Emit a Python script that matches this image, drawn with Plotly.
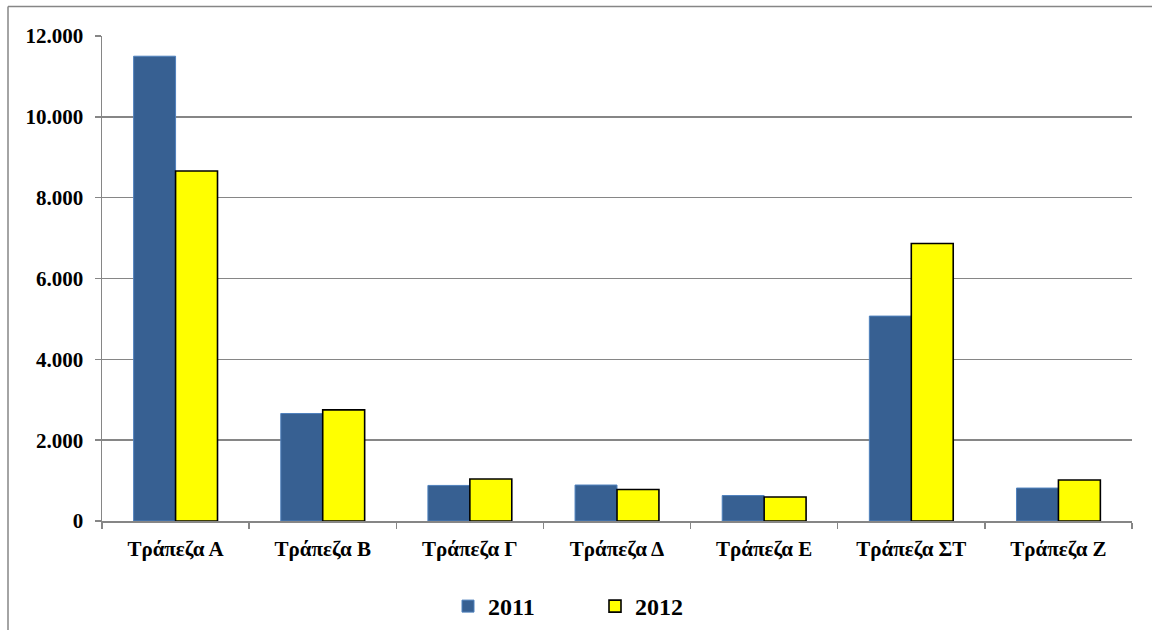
import plotly.graph_objects as go

categories = ["Τράπεζα Α", "Τράπεζα Β", "Τράπεζα Γ", "Τράπεζα Δ", "Τράπεζα Ε", "Τράπεζα ΣΤ", "Τράπεζα Ζ"]
values_2011 = [11500, 2660, 880, 890, 630, 5070, 815]
values_2012 = [8660, 2750, 1040, 780, 595, 6865, 1015]
series_names = ["2011", "2012"]

W, H = 1152, 630
L, R, T, B = 102, 1132, 36, 521  # plot area in pixels

FONT = "Liberation Serif"
GRID = "#868686"

fig = go.Figure()
fig.add_trace(go.Bar(
    x=categories, y=values_2011, name=series_names[0],
    marker=dict(color="#376092", line=dict(color="#4F81BD", width=1)),
))
fig.add_trace(go.Bar(
    x=categories, y=values_2012, name=series_names[1],
    marker=dict(color="#FFFF00", line=dict(color="#000000", width=1.6)),
))

pw = R - L
ph = B - T
def px2paper_x(x):
    return (x - L) / pw
def px2paper_y(y):
    return (B - y) / ph

fig.update_layout(
    width=W, height=H,
    margin=dict(l=L, r=W - R, t=T, b=H - B, autoexpand=False),
    paper_bgcolor="white", plot_bgcolor="white",
    barmode="group", bargap=0.43, bargroupgap=0,
    separators=",.",
    showlegend=True,
    legend=dict(
        orientation="h", x=px2paper_x(448), xanchor="left",
        y=px2paper_y(584), yanchor="top",
        font=dict(family=FONT, size=24, color="black", weight="bold"),
        entrywidth=102, entrywidthmode="pixels",
        bgcolor="rgba(0,0,0,0)", itemclick=False,
    ),
    xaxis=dict(
        type="category", showgrid=False, showline=True, linecolor=GRID, linewidth=1.5,
        ticks="outside", tickson="boundaries", ticklen=6, tickcolor=GRID, tickwidth=1.5,
        ticklabelstandoff=8,
        tickfont=dict(family=FONT, size=21, color="black", weight="bold"),
        fixedrange=True,
    ),
    yaxis=dict(
        range=[0, 12000], dtick=2000, tickformat=",d",
        showgrid=True, gridcolor=GRID, gridwidth=1.5,
        showline=True, linecolor=GRID, linewidth=1.5,
        ticks="outside", ticklen=6, tickcolor=GRID, tickwidth=1.5,
        ticklabelstandoff=7,
        tickfont=dict(family=FONT, size=21, color="black", weight="bold"),
        zeroline=False, fixedrange=True,
    ),
    shapes=[
        dict(type="line", xref="paper", yref="paper",
             x0=px2paper_x(8), x1=px2paper_x(1160), y0=px2paper_y(6.5), y1=px2paper_y(6.5),
             line=dict(color=GRID, width=1.5), layer="below"),
        dict(type="line", xref="paper", yref="paper",
             x0=px2paper_x(8), x1=px2paper_x(8), y0=px2paper_y(6.5), y1=px2paper_y(640),
             line=dict(color=GRID, width=1.5), layer="below"),
    ],
)

fig.write_html(
    "out.html",
    config={"displayModeBar": False, "staticPlot": True},
    post_script="document.body.style.margin='0';document.body.style.overflow='hidden';",
)
